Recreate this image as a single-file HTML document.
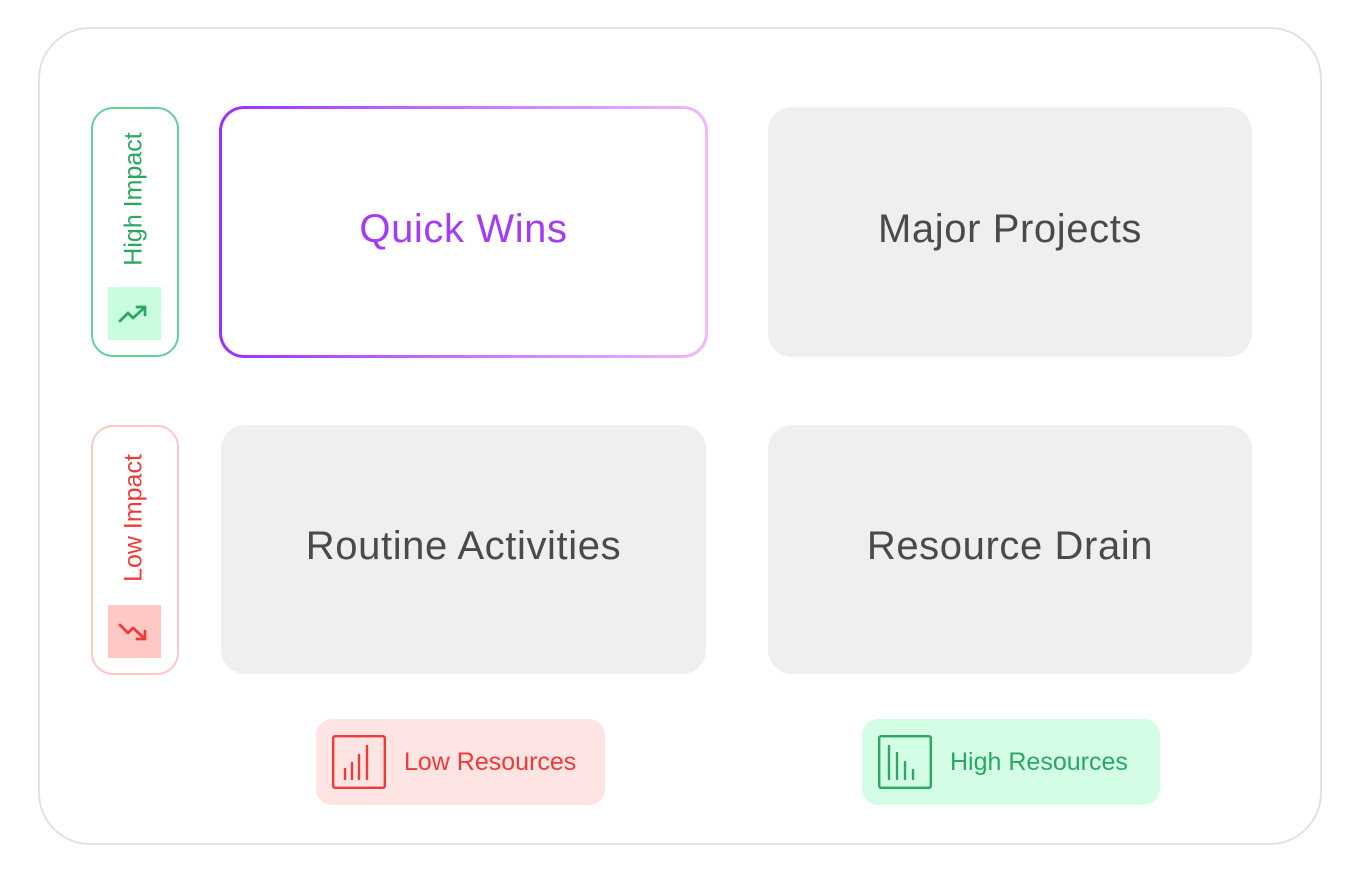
<!DOCTYPE html>
<html><head><meta charset="utf-8"><style>
*{margin:0;padding:0;box-sizing:border-box}
body{width:1352px;height:890px;background:#fff;position:relative;font-family:"Liberation Sans",sans-serif;overflow:hidden}
.a{position:absolute}
.outer{left:38px;top:27px;width:1284px;height:818px;border:2px solid #e2e2e2;border-radius:52px}
.q{border-radius:24px;display:flex;align-items:center;justify-content:center;font-size:40px;letter-spacing:0.6px;color:#4a4a4a;background:#efefef;padding-bottom:6px}
.pill{border-radius:22px;border:2.5px solid}
.vt{position:absolute;transform:translate(-50%,-50%) rotate(-90deg);white-space:nowrap;font-size:25px}
.res{border-radius:16px;display:flex;align-items:center;font-size:25px}
</style></head><body>
<div class="a outer"></div>

<div class="a" style="left:219px;top:106px;width:489px;height:252px;border-radius:25px;background:linear-gradient(90deg,#9b30ff,#f2b8ff)"></div>
<div class="a q" style="left:222px;top:109px;width:483px;height:246px;border-radius:22px;background:#fff;color:#a43cf5">Quick Wins</div>
<div class="a q" style="left:768px;top:107px;width:484px;height:250px">Major Projects</div>
<div class="a q" style="left:221px;top:425px;width:485px;height:249px">Routine Activities</div>
<div class="a q" style="left:768px;top:425px;width:484px;height:249px">Resource Drain</div>

<div class="a pill" style="left:91px;top:107px;width:88px;height:250px;border-color:#5fd49a"></div>
<div class="vt" style="left:134px;top:199px;color:#2aa860">High Impact</div>
<div class="a" style="left:108px;top:287px;width:53px;height:53px;background:#c8fde0">
<svg width="53" height="53" viewBox="0 0 53 53"><path d="M12 34 L20 26 L25 31 L36 21 M29 20 L37 20 L37 28" fill="none" stroke="#2aa860" stroke-width="2.8" stroke-linecap="round" stroke-linejoin="round"/></svg></div>

<div class="a pill" style="left:91px;top:425px;width:88px;height:250px;border-color:#ffc8c4"></div>
<div class="vt" style="left:134px;top:518px;color:#f03a3a">Low Impact</div>
<div class="a" style="left:108px;top:605px;width:53px;height:53px;background:#ffc8c4">
<svg width="53" height="53" viewBox="0 0 53 53"><path d="M12 20 L20 28 L25 23 L36 33 M29 34 L37 34 L37 26" fill="none" stroke="#f03a3a" stroke-width="2.8" stroke-linecap="round" stroke-linejoin="round"/></svg></div>

<div class="a res" style="left:316px;top:719px;width:289px;height:86px;background:#ffe4e4;color:#f03a3a">
<svg style="margin-left:16px" width="54" height="54" viewBox="0 0 54 54"><rect x="1.2" y="1.2" width="51.6" height="51.6" rx="2" fill="none" stroke="#f03a3a" stroke-width="2.4"/><path d="M13 44V34 M20 44V28 M27 44V20 M35 44V11" stroke="#f03a3a" stroke-width="2.4" stroke-linecap="round"/></svg>
<span style="margin-left:18px">Low Resources</span></div>

<div class="a res" style="left:862px;top:719px;width:298px;height:86px;background:#d4fde6;color:#2aa860">
<svg style="margin-left:16px" width="54" height="54" viewBox="0 0 54 54"><rect x="1.2" y="1.2" width="51.6" height="51.6" rx="2" fill="none" stroke="#2aa860" stroke-width="2.4"/><path d="M11 11V44 M19 18V44 M27 27V44 M35 35V44" stroke="#2aa860" stroke-width="2.4" stroke-linecap="round"/></svg>
<span style="margin-left:18px">High Resources</span></div>
</body></html>
